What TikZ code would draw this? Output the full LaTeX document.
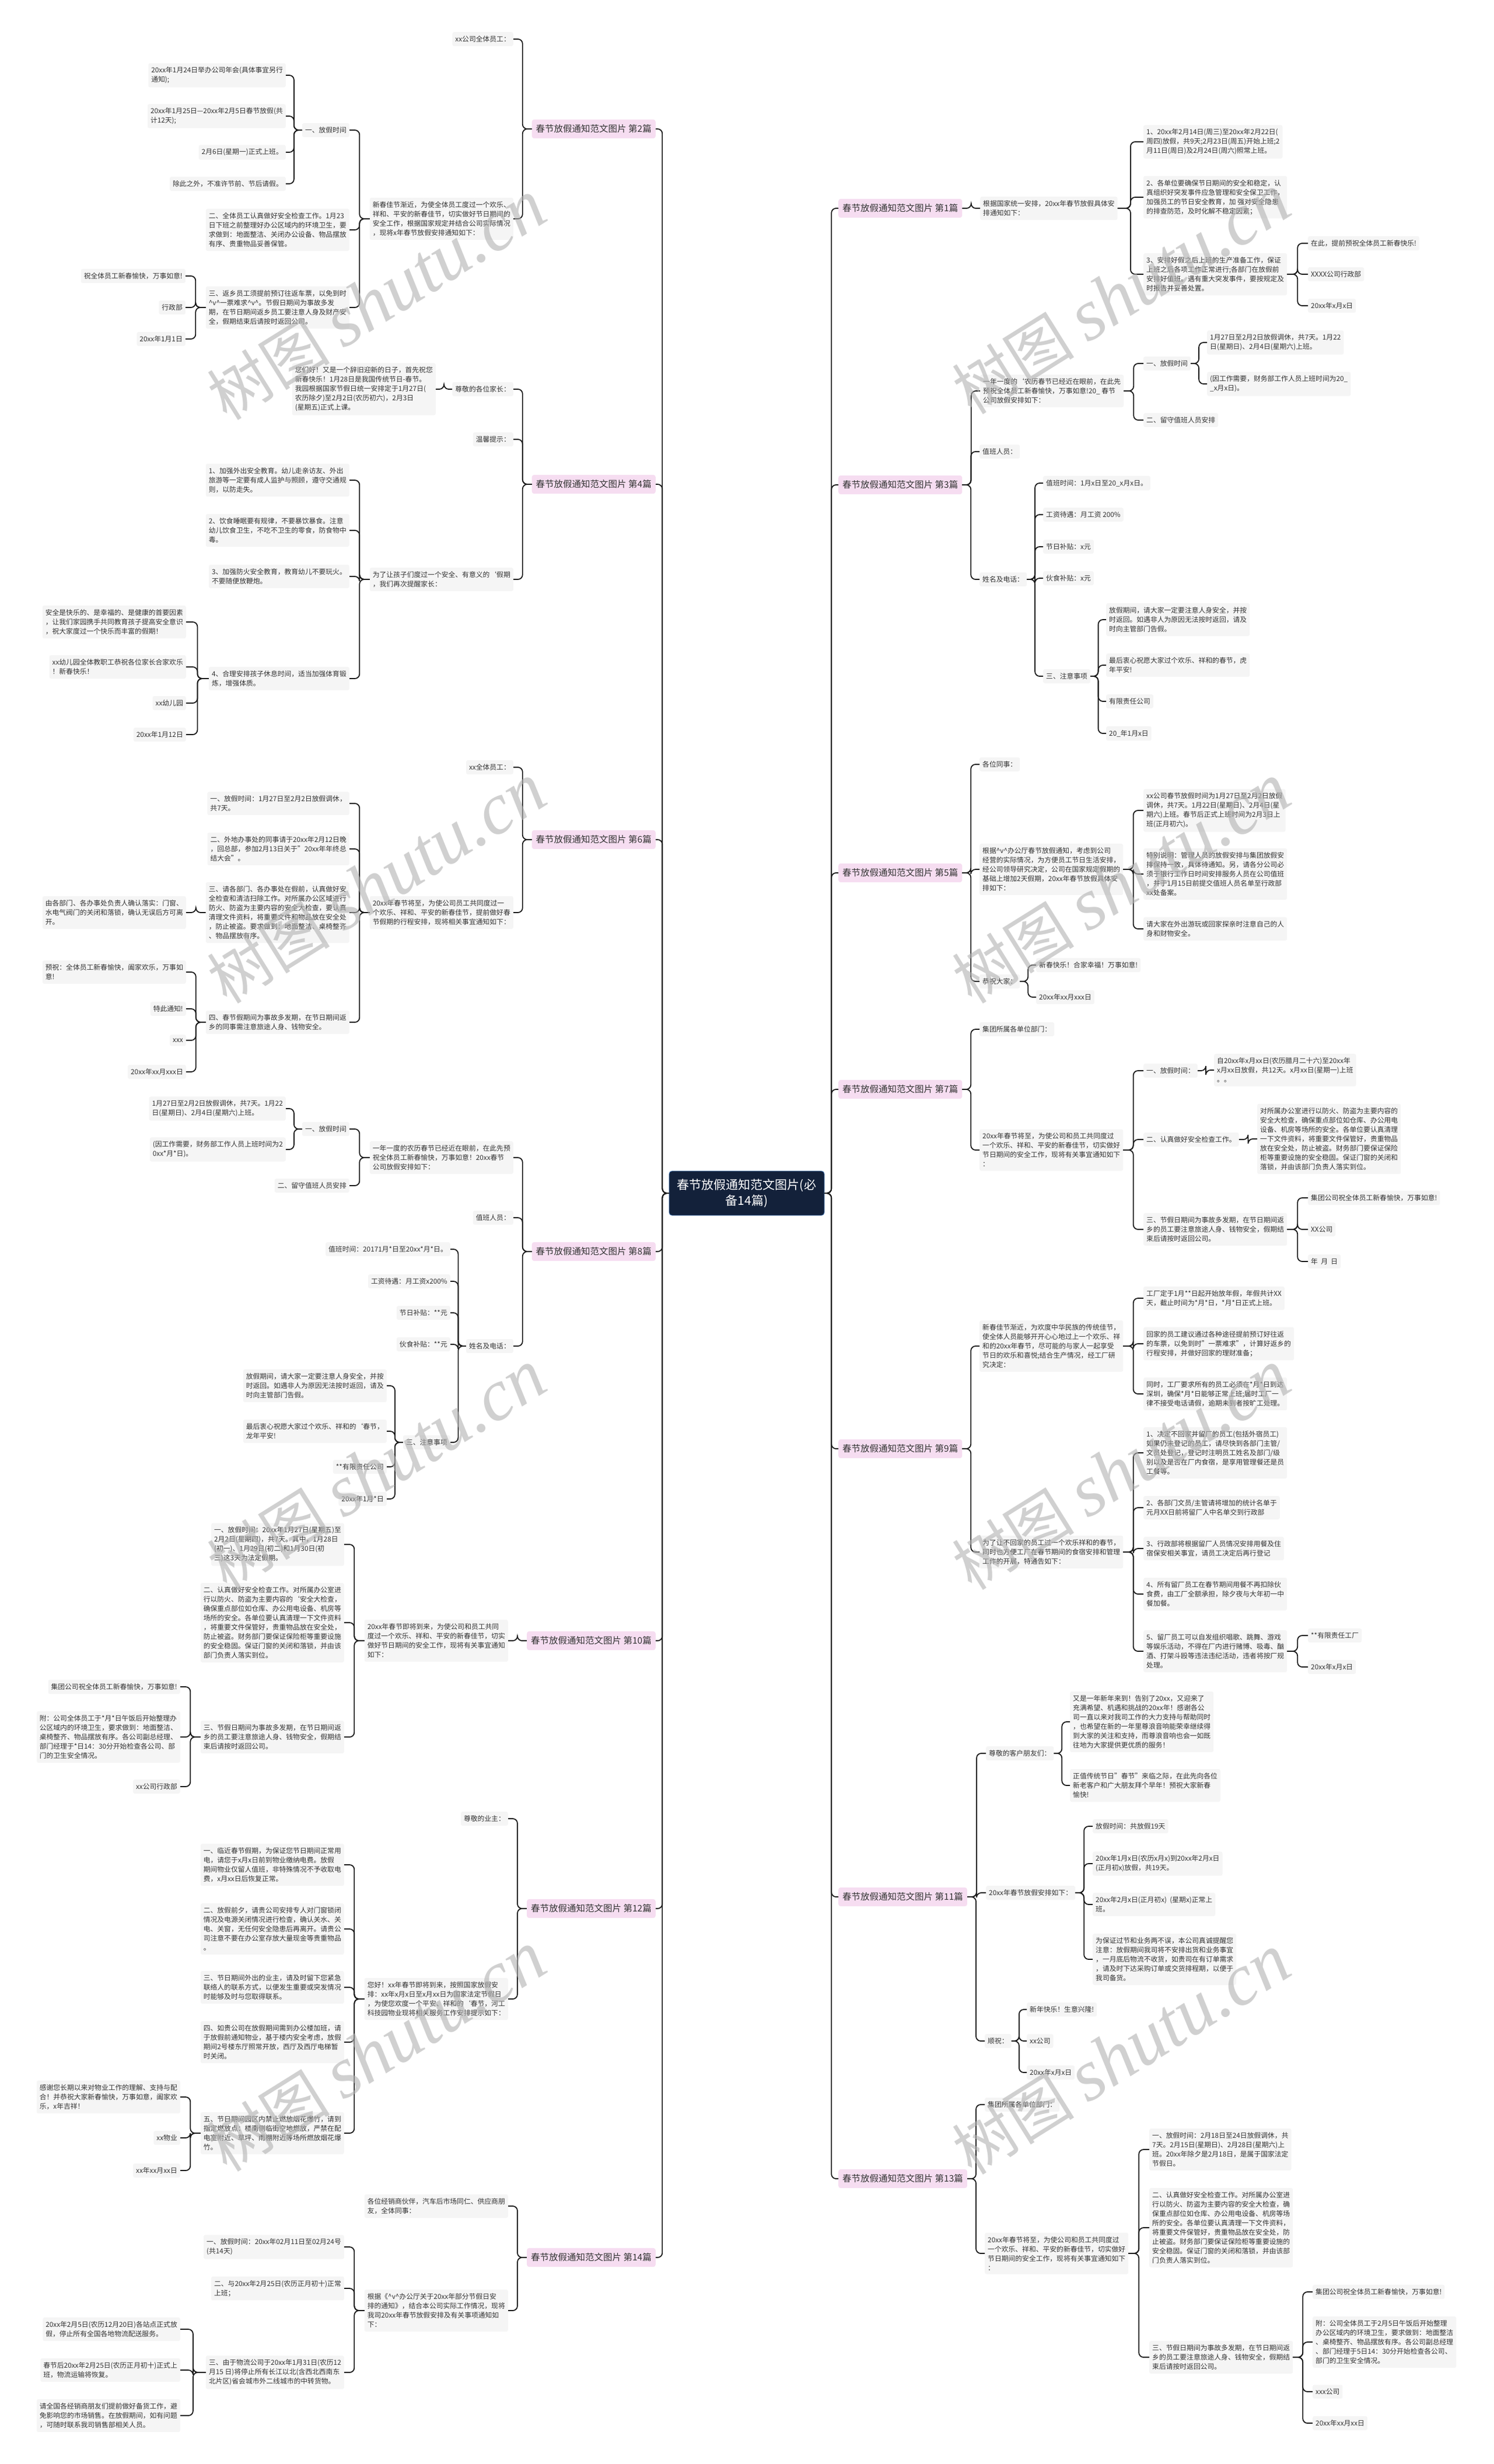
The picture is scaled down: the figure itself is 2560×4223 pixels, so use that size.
\documentclass[tikz,border=0pt]{standalone}
\usepackage{fontspec}
\setmainfont{Noto Sans CJK SC}
\newfontfamily\wmserif{Liberation Serif}
\usetikzlibrary{calc}
\definecolor{leafbg}{HTML}{F5F5F5}
\definecolor{pinkbg}{HTML}{F6DDF1}
\definecolor{rootbg}{HTML}{13213A}
\definecolor{rootedge}{HTML}{3A6FB0}
\definecolor{txt}{HTML}{333333}
\definecolor{linec}{HTML}{1A1A1A}
\newcommand\smly{\textasciicircum v\textasciicircum}
\newcommand\mmR[2]{\draw[conn] (#1.east) -- ($(#1.east)!0.5!(#1.east -| #2.west)$) |- (#2.west);}
\newcommand\mmL[2]{\draw[conn] (#1.west) -- ($(#1.west)!0.5!(#1.west -| #2.east)$) |- (#2.east);}
\begin{document}
\begin{tikzpicture}[x=1pt,y=-1pt,
  leaf/.style={fill=leafbg, rounded corners=3pt, inner xsep=5pt, inner ysep=6.5pt, text=txt, align=left, font=\fontsize{11.8}{16}\selectfont},
  lr/.style={leaf, anchor=west},
  ll/.style={leaf, anchor=east},
  branch/.style={fill=pinkbg, rounded corners=4pt, inner xsep=7pt, inner ysep=9pt, text=txt, font=\fontsize{15.5}{18}\selectfont},
  br/.style={branch, anchor=west},
  bl/.style={branch, anchor=east},
  root/.style={fill=rootbg, draw=rootedge, line width=0.8pt, rounded corners=5pt, text=white, align=center, font=\fontsize{21}{27}\selectfont, minimum width=266pt, minimum height=76pt},
  conn/.style={draw=linec, line width=1.8pt, rounded corners=8pt},
  wm/.style={text=gray!60, text opacity=0.6, rotate=32, font=\fontsize{105}{105}\selectfont}
]
\fill[white] (0,0) rectangle (2560,4223);
\useasboundingbox (0,0) rectangle (2560,4223);

\node[root] (root) at (1280,2045) {春节放假通知范文图片(必\\备14篇)};

% ================= RIGHT SIDE =================
% --- 1
\node[br] (s1) at (1437,357) {春节放假通知范文图片 第1篇};
\node[lr] (a1) at (1680,357) {根据国家统一安排，20xx年春节放假具体安\\排通知如下：};
\node[lr] (a11) at (1960,243) {1、20xx年2月14日(周三)至20xx年2月22日(\\周四)放假，共9天;2月23日(周五)开始上班;2\\月11日(周日)及2月24日(周六)照常上班。};
\node[lr] (a12) at (1960,338) {2、各单位要确保节日期间的安全和稳定，认\\真组织好突发事件应急管理和安全保卫工作，\\加强员工的节日安全教育，加 强对安全隐患\\的排查防范，及时化解不稳定因素；};
\node[lr] (a13) at (1960,470) {3、安排好假之后上班的生产准备工作，保证\\上班之后各项工作正常进行;各部门在放假前\\安排好值班。遇有重大突发事件，要按规定及\\时报告并妥善处置。};
\node[lr] (a131) at (2242,417) {在此，提前预祝全体员工新春快乐!};
\node[lr] (a132) at (2242,470) {XXXX公司行政部};
\node[lr] (a133) at (2242,524) {20xx年x月x日};
\mmR{root}{s1}\mmR{s1}{a1}
\mmR{a1}{a11}\mmR{a1}{a12}\mmR{a1}{a13}
\mmR{a13}{a131}\mmR{a13}{a132}\mmR{a13}{a133}

% --- 3
\node[br] (s3) at (1437,831) {春节放假通知范文图片 第3篇};
\node[lr] (c1) at (1680,670) {一年一度的`农历春节已经近在眼前，在此先\\预祝全体员工新春愉快，万事如意!20\_ 春节\\公司放假安排如下：};
\node[lr] (c11) at (1960,623) {一、放假时间};
\node[lr] (c111) at (2069,587) {1月27日至2月2日放假调休，共7天。1月22\\日(星期日)、2月4日(星期六)上班。};
\node[lr] (c112) at (2069,658) {(因工作需要，财务部工作人员上班时间为20\_\\\_x月x日)。};
\node[lr] (c12) at (1960,720) {二、留守值班人员安排};
\node[lr] (c2) at (1679,774) {值班人员：};
\node[lr] (c3) at (1679,993) {姓名及电话：};
\node[lr] (c31) at (1788,828) {值班时间：1月x日至20\_x月x日。};
\node[lr] (c32) at (1788,882) {工资待遇：月工资 200\%};
\node[lr] (c33) at (1788,937) {节日补贴：x元};
\node[lr] (c34) at (1788,991) {伙食补贴：x元};
\node[lr] (c35) at (1788,1159) {三、注意事项};
\node[lr] (c351) at (1896,1062) {放假期间，请大家一定要注意人身安全，并按\\时返回。如遇非人为原因无法按时返回，请及\\时向主管部门告假。};
\node[lr] (c352) at (1896,1140) {最后衷心祝愿大家过个欢乐、祥和的春节，虎\\年平安!};
\node[lr] (c353) at (1896,1202) {有限责任公司};
\node[lr] (c354) at (1896,1257) {20\_年1月x日};
\mmR{root}{s3}\mmR{s3}{c1}\mmR{s3}{c2}\mmR{s3}{c3}
\mmR{c1}{c11}\mmR{c1}{c12}\mmR{c11}{c111}\mmR{c11}{c112}
\mmR{c3}{c31}\mmR{c3}{c32}\mmR{c3}{c33}\mmR{c3}{c34}\mmR{c3}{c35}
\mmR{c35}{c351}\mmR{c35}{c352}\mmR{c35}{c353}\mmR{c35}{c354}

% --- 5
\node[br] (s5) at (1437,1496) {春节放假通知范文图片 第5篇};
\node[lr] (e1) at (1679,1310) {各位同事：};
\node[lr] (e2) at (1679,1490) {根据\smly 办公厅春节放假通知，考虑到公司\\经营的实际情况，为方便员工节日生活安排，\\经公司领导研究决定，公司在国家规定假期的\\基础上增加2天假期，20xx年春节放假具体安\\排如下：};
\node[lr] (e21) at (1960,1389) {xx公司春节放假时间为1月27日至2月2日放假\\调休，共7天。1月22日(星期日)、2月4日(星\\期六)上班。春节后正式上班时间为2月3日上\\班(正月初六)。};
\node[lr] (e22) at (1960,1498) {特别说明：管理人员的放假安排与集团放假安\\排保持一致，具体待通知。另，请各分公司必\\须于银行工作日时间安排服务人员在公司值班\\，并于1月15日前提交值班人员名单至行政部\\xx处备案。};
\node[lr] (e23) at (1960,1592) {请大家在外出游玩或回家探亲时注意自己的人\\身和财物安全。};
\node[lr] (e3) at (1679,1682) {恭祝大家：};
\node[lr] (e31) at (1776,1654) {新春快乐！合家幸福！万事如意!};
\node[lr] (e32) at (1776,1709) {20xx年xx月xxx日};
\mmR{root}{s5}\mmR{s5}{e1}\mmR{s5}{e2}\mmR{s5}{e3}
\mmR{e2}{e21}\mmR{e2}{e22}\mmR{e2}{e23}
\mmR{e3}{e31}\mmR{e3}{e32}

% --- 7
\node[br] (s7) at (1437,1867) {春节放假通知范文图片 第7篇};
\node[lr] (g1) at (1679,1764) {集团所属各单位部门：};
\node[lr] (g2) at (1679,1971) {20xx年春节将至，为使公司和员工共同度过\\一个欢乐、祥和、平安的新春佳节，切实做好\\节日期间的安全工作，现将有关事宜通知如下\\：};
\node[lr] (g21) at (1960,1835) {一、放假时间：};
\node[lr] (g211) at (2081,1834) {自20xx年x月xx日(农历腊月二十六)至20xx年\\x月xx日放假，共12天。x月xx日(星期一)上班\\。。};
\node[lr] (g22) at (1960,1953) {二、认真做好安全检查工作。};
\node[lr] (g221) at (2155,1952) {对所属办公室进行以防火、防盗为主要内容的\\安全大检查，确保重点部位如仓库、办公用电\\设备、机房等场所的安全。各单位要认真清理\\一下文件资料，将重要文件保管好，贵重物品\\放在安全处，防止被盗。财务部门要保证保险\\柜等重要设施的安全稳固。保证门窗的关闭和\\落锁，并由该部门负责人落实到位。};
\node[lr] (g23) at (1960,2107) {三、节假日期间为事故多发期，在节日期间返\\乡的员工要注意旅途人身、钱物安全，假期结\\束后请按时返回公司。};
\node[lr] (g231) at (2242,2053) {集团公司祝全体员工新春愉快，万事如意!};
\node[lr] (g232) at (2242,2107) {XX公司};
\node[lr] (g233) at (2242,2162) {年 \ 月 \ 日};
\mmR{root}{s7}\mmR{s7}{g1}\mmR{s7}{g2}
\mmR{g2}{g21}\mmR{g2}{g22}\mmR{g2}{g23}
\mmR{g21}{g211}\mmR{g22}{g221}
\mmR{g23}{g231}\mmR{g23}{g232}\mmR{g23}{g233}

% --- 9
\node[br] (s9) at (1437,2483) {春节放假通知范文图片 第9篇};
\node[lr] (i1) at (1679,2307) {新春佳节渐近，为欢度中华民族的传统佳节，\\使全体人员能够开开心心地过上一个欢乐、祥\\和的20xx年春节，尽可能的与家人一起享受\\节日的欢乐和喜悦;结合生产情况，经工厂研\\究决定：};
\node[lr] (i11) at (1960,2225) {工厂定于1月**日起开始放年假，年假共计XX\\天，截止时间为*月*日，*月*日正式上班。};
\node[lr] (i12) at (1960,2303) {回家的员工建议通过各种途径提前预订好往返\\的车票，以免到时"一票难求"，计算好返乡的\\行程安排，并做好回家的理财准备；};
\node[lr] (i13) at (1960,2389) {同时，工厂要求所有的员工必须在*月*日到达\\深圳，确保*月*日能够正常上班;届时工厂一\\律不接受电话请假，逾期未到者按旷工处理。};
\node[lr] (i2) at (1679,2660) {为了让不回家的员工过一个欢乐祥和的春节，\\同时也方便工厂在春节期间的食宿安排和管理\\工作的开展，特通告如下：};
\node[lr] (i21) at (1960,2490) {1、决定不回家并留厂的员工(包括外宿员工)\\如果仍未登记的员工，请尽快到各部门主管/\\文员处登记，登记时注明员工姓名及部门/级\\别以及是否在厂内食宿，是享用管理餐还是员\\工餐等。};
\node[lr] (i22) at (1960,2584) {2、各部门文员/主管请将增加的统计名单于\\元月XX日前将留厂人中名单交到行政部};
\node[lr] (i23) at (1960,2654) {3、行政部将根据留厂人员情况安排用餐及住\\宿保安相关事宜，请员工决定后再行登记};
\node[lr] (i24) at (1960,2732) {4、所有留厂员工在春节期间用餐不再扣除伙\\食费，由工厂全额承担，除夕夜与大年初一中\\餐加餐。};
\node[lr] (i25) at (1960,2830) {5、留厂员工可以自发组织唱歌、跳舞、游戏\\等娱乐活动，不得在厂内进行赌博、吸毒、酗\\酒、打架斗殴等违法违纪活动，违者将按厂规\\处理。};
\node[lr] (i251) at (2242,2803) {**有限责任工厂};
\node[lr] (i252) at (2242,2857) {20xx年x月x日};
\mmR{root}{s9}\mmR{s9}{i1}\mmR{s9}{i2}
\mmR{i1}{i11}\mmR{i1}{i12}\mmR{i1}{i13}
\mmR{i2}{i21}\mmR{i2}{i22}\mmR{i2}{i23}\mmR{i2}{i24}\mmR{i2}{i25}
\mmR{i25}{i251}\mmR{i25}{i252}

% --- 11
\node[br] (s11) at (1437,3251) {春节放假通知范文图片 第11篇};
\node[lr] (k1) at (1690,3005) {尊敬的客户朋友们：};
\node[lr] (k11) at (1834,2951) {又是一年新年来到！告别了20xx，又迎来了\\充满希望、机遇和挑战的20xx年！感谢各公\\司一直以来对我司工作的大力支持与帮助同时\\，也希望在新的一年里尊浪音响能荣幸继续得\\到大家的关注和支持，而尊浪音响也会一如既\\往地为大家提供更优质的服务！};
\node[lr] (k12) at (1834,3060) {正值传统节日"春节"来临之际，在此先向各位\\新老客户和广大朋友拜个早年！预祝大家新春\\愉快!};
\node[lr] (k2) at (1690,3244) {20xx年春节放假安排如下：};
\node[lr] (k21) at (1873,3130) {放假时间：共放假19天};
\node[lr] (k22) at (1873,3194) {20xx年1月x日(农历x月x)到20xx年2月x日\\(正月初x)放假，共19天。};
\node[lr] (k23) at (1873,3264) {20xx年2月x日(正月初x) \ (星期x)正常上\\班。};
\node[lr] (k24) at (1873,3358) {为保证过节和业务两不误，本公司真诚提醒您\\注意：放假期间我司将不安排出货和业务事宜\\，一月底后物流不收货，如贵司在有订单需求\\，请及时下达采购订单或交货排程期，以便于\\我司备货。};
\node[lr] (k3) at (1688,3498) {顺祝：};
\node[lr] (k31) at (1760,3444) {新年快乐！生意兴隆!};
\node[lr] (k32) at (1760,3498) {xx公司};
\node[lr] (k33) at (1760,3552) {20xx年x月x日};
\mmR{root}{s11}\mmR{s11}{k1}\mmR{s11}{k2}\mmR{s11}{k3}
\mmR{k1}{k11}\mmR{k1}{k12}
\mmR{k2}{k21}\mmR{k2}{k22}\mmR{k2}{k23}\mmR{k2}{k24}
\mmR{k3}{k31}\mmR{k3}{k32}\mmR{k3}{k33}

% --- 13
\node[br] (s13) at (1437,3734) {春节放假通知范文图片 第13篇};
\node[lr] (m1) at (1688,3607) {集团所属各单位部门：};
\node[lr] (m2) at (1688,3862) {20xx年春节将至，为使公司和员工共同度过\\一个欢乐、祥和、平安的新春佳节，切实做好\\节日期间的安全工作，现将有关事宜通知如下\\：};
\node[lr] (m21) at (1970,3684) {一、放假时间：2月18日至24日放假调休，共\\7天。2月15日(星期日)、2月28日(星期六)上\\班。20xx年除夕是2月18日，是属于国家法定\\节假日。};
\node[lr] (m22) at (1970,3818) {二、认真做好安全检查工作。对所属办公室进\\行以防火、防盗为主要内容的安全大检查，确\\保重点部位如仓库、办公用电设备、机房等场\\所的安全。各单位要认真清理一下文件资料，\\将重要文件保管好，贵重物品放在安全处，防\\止被盗。财务部门要保证保险柜等重要设施的\\安全稳固。保证门窗的关闭和落锁，并由该部\\门负责人落实到位。};
\node[lr] (m23) at (1970,4040) {三、节假日期间为事故多发期，在节日期间返\\乡的员工要注意旅途人身、钱物安全，假期结\\束后请按时返回公司。};
\node[lr] (m231) at (2250,3928) {集团公司祝全体员工新春愉快，万事如意!};
\node[lr] (m232) at (2250,4014) {附：公司全体员工于2月5日午饭后开始整理\\办公区域内的环境卫生，要求做到：地面整洁\\、桌椅整齐、物品摆放有序。各公司副总经理\\、部门经理于5日14：30分开始检查各公司、\\部门的卫生安全情况。};
\node[lr] (m233) at (2250,4099) {xxx公司};
\node[lr] (m234) at (2250,4153) {20xx年xx月xx日};
\mmR{root}{s13}\mmR{s13}{m1}\mmR{s13}{m2}
\mmR{m2}{m21}\mmR{m2}{m22}\mmR{m2}{m23}
\mmR{m23}{m231}\mmR{m23}{m232}\mmR{m23}{m233}\mmR{m23}{m234}

% ================= LEFT SIDE =================
% --- 2
\node[bl] (s2) at (1124,221) {春节放假通知范文图片 第2篇};
\node[ll] (b1) at (880,67) {xx公司全体员工：};
\node[ll] (b2) at (880,375) {新春佳节渐近，为使全体员工度过一个欢乐、\\祥和、平安的新春佳节，切实做好节日期间的\\安全工作，根据国家规定并结合公司实际情况\\，现将x年春节放假安排通知如下：};
\node[ll] (b21) at (599,223) {一、放假时间};
\node[ll] (b211) at (490,129) {20xx年1月24日举办公司年会(具体事宜另行\\通知);};
\node[ll] (b212) at (490,199) {20xx年1月25日—20xx年2月5日春节放假(共\\计12天);};
\node[ll] (b213) at (490,261) {2月6日(星期一)正式上班。};
\node[ll] (b214) at (490,315) {除此之外，不准许节前、节后请假。};
\node[ll] (b22) at (599,394) {二、全体员工认真做好安全检查工作。1月23\\日下班之前整理好办公区域内的环境卫生，要\\求做到：地面整洁、关闭办公设备、物品摆放\\有序、贵重物品妥善保管。};
\node[ll] (b23) at (599,527) {三、返乡员工须提前预订往返车票，以免到时\\\smly 一票难求\smly 。节假日期间为事故多发\\期，在节日期间返乡员工要注意人身及财产安\\全，假期结束后请按时返回公司。};
\node[ll] (b231) at (318,473) {祝全体员工新春愉快，万事如意!};
\node[ll] (b232) at (318,527) {行政部};
\node[ll] (b233) at (318,581) {20xx年1月1日};
\mmL{root}{s2}\mmL{s2}{b1}\mmL{s2}{b2}
\mmL{b2}{b21}\mmL{b2}{b22}\mmL{b2}{b23}
\mmL{b21}{b211}\mmL{b21}{b212}\mmL{b21}{b213}\mmL{b21}{b214}
\mmL{b23}{b231}\mmL{b23}{b232}\mmL{b23}{b233}

% --- 4
\node[bl] (s4) at (1124,830) {春节放假通知范文图片 第4篇};
\node[ll] (d1) at (880,667) {尊敬的各位家长：};
\node[ll] (d11) at (747,667) {您们好！又是一个辞旧迎新的日子，首先祝您\\新春快乐！1月28日是我国传统节日-春节。\\我园根据国家节假日统一安排定于1月27日(\\农历除夕)至2月2日(农历初六)，2月3日\\(星期五)正式上课。};
\node[ll] (d2) at (880,753) {温馨提示：};
\node[ll] (d3) at (880,993) {为了让孩子们度过一个安全、有意义的`假期\\，我们再次提醒家长：};
\node[ll] (d31) at (599,823) {1、加强外出安全教育。幼儿走亲访友、外出\\旅游等一定要有成人监护与照顾，遵守交通规\\则，以防走失。};
\node[ll] (d32) at (599,909) {2、饮食睡眠要有规律，不要暴饮暴食。注意\\幼儿饮食卫生，不吃不卫生的零食，防食物中\\毒。};
\node[ll] (d33) at (599,988) {3、加强防火安全教育，教育幼儿不要玩火。\\不要随便放鞭炮。};
\node[ll] (d34) at (599,1163) {4、合理安排孩子休息时间，适当加强体育锻\\炼，增强体质。};
\node[ll] (d341) at (319,1066) {安全是快乐的、是幸福的、是健康的首要因素\\，让我们家园携手共同教育孩子提高安全意识\\，祝大家度过一个快乐而丰富的假期！};
\node[ll] (d342) at (319,1143) {xx幼儿园全体教职工恭祝各位家长合家欢乐\\！新春快乐！};
\node[ll] (d343) at (319,1205) {xx幼儿园};
\node[ll] (d344) at (319,1259) {20xx年1月12日};
\mmL{root}{s4}\mmL{s4}{d1}\mmL{s4}{d2}\mmL{s4}{d3}
\mmL{d1}{d11}
\mmL{d3}{d31}\mmL{d3}{d32}\mmL{d3}{d33}\mmL{d3}{d34}
\mmL{d34}{d341}\mmL{d34}{d342}\mmL{d34}{d343}\mmL{d34}{d344}

% --- 6
\node[bl] (s6) at (1124,1439) {春节放假通知范文图片 第6篇};
\node[ll] (f1) at (880,1315) {xx全体员工：};
\node[ll] (f2) at (880,1564) {20xx年春节将至，为使公司员工共同度过一\\个欢乐、祥和、平安的新春佳节，提前做好春\\节假期的行程安排，现将相关事宜通知如下：};
\node[ll] (f21) at (599,1377) {一、放假时间：1月27日至2月2日放假调休，\\共7天。};
\node[ll] (f22) at (599,1455) {二、外地办事处的同事请于20xx年2月12日晚\\，回总部，参加2月13日关于"20xx年年终总\\结大会"。};
\node[ll] (f23) at (599,1564) {三、请各部门、各办事处在假前，认真做好安\\全检查和清洁扫除工作。对所属办公区域进行\\防火、防盗为主要内容的安全大检查，要认真\\清理文件资料，将重要文件和物品放在安全处\\，防止被盗。要求做到：地面整洁、桌椅整齐\\、物品摆放有序。};
\node[ll] (f231) at (319,1564) {由各部门、各办事处负责人确认落实：门窗、\\水电气阀门的关闭和落锁，确认无误后方可离\\开。};
\node[ll] (f24) at (599,1752) {四、春节假期间为事故多发期，在节日期间返\\乡的同事需注意旅途人身、钱物安全。};
\node[ll] (f241) at (319,1666) {预祝：全体员工新春愉快，阖家欢乐，万事如\\意!};
\node[ll] (f242) at (319,1729) {特此通知!};
\node[ll] (f243) at (319,1783) {xxx};
\node[ll] (f244) at (319,1837) {20xx年xx月xxx日};
\mmL{root}{s6}\mmL{s6}{f1}\mmL{s6}{f2}
\mmL{f2}{f21}\mmL{f2}{f22}\mmL{f2}{f23}\mmL{f2}{f24}
\mmL{f23}{f231}
\mmL{f24}{f241}\mmL{f24}{f242}\mmL{f24}{f243}\mmL{f24}{f244}

% --- 8
\node[bl] (s8) at (1124,2145) {春节放假通知范文图片 第8篇};
\node[ll] (h1) at (880,1984) {一年一度的农历春节已经近在眼前，在此先预\\祝全体员工新春愉快，万事如意！20xx春节\\公司放假安排如下：};
\node[ll] (h11) at (599,1935) {一、放假时间};
\node[ll] (h111) at (490,1900) {1月27日至2月2日放假调休，共7天。1月22\\日(星期日)、2月4日(星期六)上班。};
\node[ll] (h112) at (490,1970) {(因工作需要，财务部工作人员上班时间为2\\0xx*月*日)。};
\node[ll] (h12) at (599,2032) {二、留守值班人员安排};
\node[ll] (h2) at (880,2087) {值班人员：};
\node[ll] (h3) at (880,2307) {姓名及电话：};
\node[ll] (h31) at (772,2141) {值班时间：20171月*日至20xx*月*日。};
\node[ll] (h32) at (772,2196) {工资待遇：月工资x200\%};
\node[ll] (h33) at (772,2250) {节日补贴：**元};
\node[ll] (h34) at (772,2304) {伙食补贴：**元};
\node[ll] (h35) at (772,2472) {三、注意事项};
\node[ll] (h351) at (663,2375) {放假期间，请大家一定要注意人身安全，并按\\时返回。如遇非人为原因无法按时返回，请及\\时向主管部门告假。};
\node[ll] (h352) at (663,2453) {最后衷心祝愿大家过个欢乐、祥和的`春节，\\龙年平安!};
\node[ll] (h353) at (663,2514) {**有限责任公司};
\node[ll] (h354) at (663,2569) {20xx年1月*日};
\mmL{root}{s8}\mmL{s8}{h1}\mmL{s8}{h2}\mmL{s8}{h3}
\mmL{h1}{h11}\mmL{h1}{h12}\mmL{h11}{h111}\mmL{h11}{h112}
\mmL{h3}{h31}\mmL{h3}{h32}\mmL{h3}{h33}\mmL{h3}{h34}\mmL{h3}{h35}
\mmL{h35}{h351}\mmL{h35}{h352}\mmL{h35}{h353}\mmL{h35}{h354}

% --- 10
\node[bl] (s10) at (1124,2812) {春节放假通知范文图片 第10篇};
\node[ll] (j1) at (871,2812) {20xx年春节即将到来，为使公司和员工共同\\度过一个欢乐、祥和、平安的新春佳节，切实\\做好节日期间的安全工作，现将有关事宜通知\\如下：};
\node[ll] (j11) at (590,2647) {一、放假时间：20xx年1月27日(星期五)至\\2月2日(星期四)，共7天。其中，1月28日\\(初一)、1月29日(初二)和1月30日(初\\三)这3天为法定假期。};
\node[ll] (j12) at (590,2781) {二、认真做好安全检查工作。对所属办公室进\\行以防火、防盗为主要内容的`安全大检查，\\确保重点部位如仓库、办公用电设备、机房等\\场所的安全。各单位要认真清理一下文件资料\\，将重要文件保管好，贵重物品放在安全处，\\防止被盗。财务部门要保证保险柜等重要设施\\的安全稳固。保证门窗的关闭和落锁，并由该\\部门负责人落实到位。};
\node[ll] (j13) at (590,2977) {三、节假日期间为事故多发期，在节日期间返\\乡的员工要注意旅途人身、钱物安全，假期结\\束后请按时返回公司。};
\node[ll] (j131) at (309,2891) {集团公司祝全体员工新春愉快，万事如意!};
\node[ll] (j132) at (309,2977) {附：公司全体员工于*月*日午饭后开始整理办\\公区域内的环境卫生，要求做到：地面整洁、\\桌椅整齐、物品摆放有序。各公司副总经理、\\部门经理于*日14：30分开始检查各公司、部\\门的卫生安全情况。};
\node[ll] (j133) at (309,3062) {xx公司行政部};
\mmL{root}{s10}\mmL{s10}{j1}
\mmL{j1}{j11}\mmL{j1}{j12}\mmL{j1}{j13}
\mmL{j13}{j131}\mmL{j13}{j132}\mmL{j13}{j133}

% --- 12
\node[bl] (s12) at (1124,3271) {春节放假通知范文图片 第12篇};
\node[ll] (l1) at (871,3117) {尊敬的业主：};
\node[ll] (l2) at (871,3426) {您好！xx年春节即将到来，按照国家放假安\\排：xx年x月x日至x月xx日为国家法定节假日\\，为使您欢度一个平安、祥和的`春节，河工\\科技园物业现将相关服务工作安排提示如下：};
\node[ll] (l21) at (590,3196) {一、临近春节假期，为保证您节日期间正常用\\电，请您于x月x日前到物业缴纳电费。放假\\期间物业仅留人值班，非特殊情况不予收取电\\费，x月xx日后恢复正常。};
\node[ll] (l22) at (590,3306) {二、放假前夕，请贵公司安排专人对门窗锁闭\\情况及电源关闭情况进行检查，确认关水、关\\电、关窗，无任何安全隐患后再离开。请贵公\\司注意不要在办公室存放大量现金等贵重物品\\。};
\node[ll] (l23) at (590,3406) {三、节日期间外出的业主，请及时留下您紧急\\联络人的联系方式，以便发生重要或突发情况\\时能够及时与您取得联系。};
\node[ll] (l24) at (590,3500) {四、如贵公司在放假期间需到办公楼加班，请\\于放假前通知物业，基于楼内安全考虑，放假\\期间2号楼东厅照常开放，西厅及西厅电梯暂\\时关闭。};
\node[ll] (l25) at (590,3656) {五、节日期间园区内禁止燃放烟花爆竹，请到\\指定燃放点：楼南侧临街空地燃放，严禁在配\\电室附近、草坪、雨棚附近等场所燃放烟花爆\\竹。};
\node[ll] (l251) at (309,3594) {感谢您长期以来对物业工作的理解、支持与配\\合！并恭祝大家新春愉快，万事如意，阖家欢\\乐，x年吉祥！};
\node[ll] (l252) at (309,3664) {xx物业};
\node[ll] (l253) at (309,3720) {xx年xx月xx日};
\mmL{root}{s12}\mmL{s12}{l1}\mmL{s12}{l2}
\mmL{l2}{l21}\mmL{l2}{l22}\mmL{l2}{l23}\mmL{l2}{l24}\mmL{l2}{l25}
\mmL{l25}{l251}\mmL{l25}{l252}\mmL{l25}{l253}

% --- 14
\node[bl] (s14) at (1124,3869) {春节放假通知范文图片 第14篇};
\node[ll] (n1) at (871,3781) {各位经销商伙伴，汽车后市场同仁、供应商朋\\友，全体同事：};
\node[ll] (n2) at (871,3960) {根据《\smly 办公厅关于20xx年部分节假日安\\排的通知》，结合本公司实际工作情况，现将\\我司20xx年春节放假安排及有关事项通知如\\下：};
\node[ll] (n21) at (590,3851) {一、放假时间：20xx年02月11日至02月24号\\(共14天)};
\node[ll] (n22) at (590,3922) {二、与20xx年2月25日(农历正月初十)正常\\上班；};
\node[ll] (n23) at (590,4066) {三、由于物流公司于20xx年1月31日(农历12\\月15 日)将停止所有长江以北(含西北西南东\\北片区)省会城市外二线城市的中转货物。};
\node[ll] (n231) at (309,3992) {20xx年2月5日(农历12月20日)各站点正式放\\假，停止所有全国各地物流配送服务。};
\node[ll] (n232) at (309,4062) {春节后20xx年2月25日(农历正月初十)正式上\\班，物流运输将恢复。};
\node[ll] (n233) at (309,4140) {请全国各经销商朋友们提前做好备货工作，避\\免影响您的市场销售。在放假期间，如有问题\\，可随时联系我司销售部相关人员。};
\mmL{root}{s14}\mmL{s14}{n1}\mmL{s14}{n2}
\mmL{n2}{n21}\mmL{n2}{n22}\mmL{n2}{n23}
\mmL{n23}{n231}\mmL{n23}{n232}\mmL{n23}{n233}

% ================= WATERMARKS =================
\foreach \wx/\wy [count=\wi] in {646/515,1922/505,646/1515,1922/1515,646/2520,1922/2520,646/3517,1922/3522}{
  \node[wm] (wm\wi) at (\wx,\wy) {树图 {\wmserif\itshape\fontsize{125}{125}\selectfont shutu.cn}};
}
\end{tikzpicture}
\end{document}
